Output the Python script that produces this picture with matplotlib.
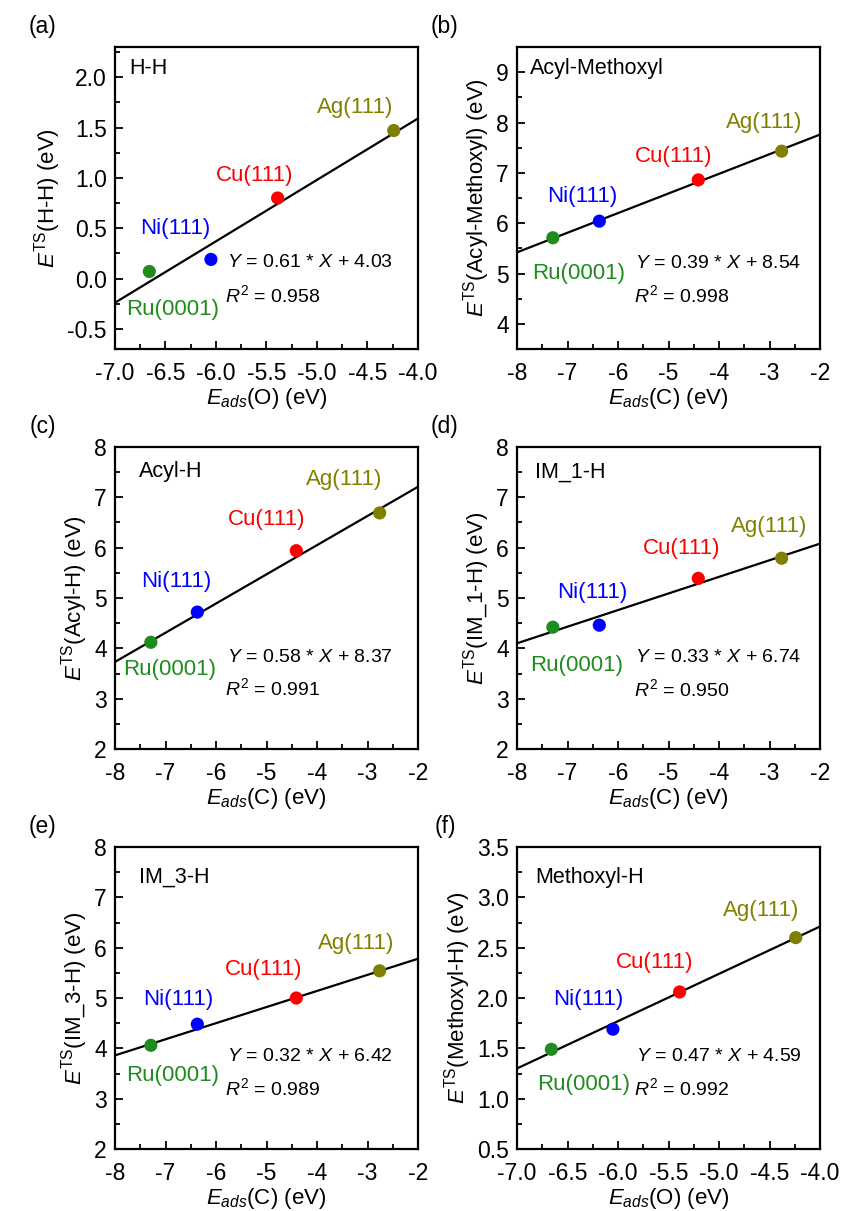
import matplotlib
matplotlib.use('Agg')
import matplotlib.pyplot as plt
from matplotlib.ticker import MultipleLocator, FormatStrFormatter
import numpy as np

plt.rcParams['font.family'] = ['Liberation Sans', 'DejaVu Sans']
plt.rcParams['mathtext.fontset'] = 'custom'
plt.rcParams['mathtext.rm'] = 'Liberation Sans'
plt.rcParams['mathtext.it'] = 'Liberation Sans:italic'
plt.rcParams['axes.unicode_minus'] = False

# 表面与颜色
surfaces = ['Ru(0001)', 'Ni(111)', 'Cu(111)', 'Ag(111)']
colors = ['#1E8C1E', '#0000FF', '#FF0000', '#808000']

# 吸附能 (eV)
e_ads_O = [-6.66, -6.05, -5.39, -4.24]
e_ads_C = [-7.29, -6.37, -4.41, -2.76]

# 各反应的过渡态能量 (eV)
ts_HH = [0.07, 0.19, 0.80, 1.47]
ts_acyl_methoxyl = [5.71, 6.04, 6.86, 7.43]
ts_acyl_H = [4.12, 4.72, 5.94, 6.69]
ts_IM1_H = [4.42, 4.46, 5.39, 5.79]
ts_IM3_H = [4.06, 4.48, 5.00, 5.54]
ts_methoxyl_H = [1.49, 1.69, 2.06, 2.60]

reactions = ['H-H', 'Acyl-Methoxyl', 'Acyl-H', 'IM_1-H', 'IM_3-H', 'Methoxyl-H']
slopes = [0.61, 0.39, 0.58, 0.33, 0.32, 0.47]
intercepts = [4.03, 8.54, 8.37, 6.74, 6.42, 4.59]
r2 = ['0.958', '0.998', '0.991', '0.950', '0.989', '0.992']

panels = [
    # (x数据, y数据, 吸附原子, xlim, ylim, x主刻度, y主刻度, 格式)
    (e_ads_O, ts_HH, 'O', (-7.0, -4.0), (-0.7, 2.3), 0.5, 0.5, '%.1f'),
    (e_ads_C, ts_acyl_methoxyl, 'C', (-8, -2), (3.5, 9.5), 1, 1, '%d'),
    (e_ads_C, ts_acyl_H, 'C', (-8, -2), (2, 8), 1, 1, '%d'),
    (e_ads_C, ts_IM1_H, 'C', (-8, -2), (2, 8), 1, 1, '%d'),
    (e_ads_C, ts_IM3_H, 'C', (-8, -2), (2, 8), 1, 1, '%d'),
    (e_ads_O, ts_methoxyl_H, 'O', (-7.0, -4.0), (0.5, 3.5), 0.5, 0.5, '%.1f'),
]

# 标签相对数据点的偏移 (像素)
label_offsets = [
    [(23, -38), (-36, 31), (-23, 23), (-39, 23)],
    [(26, -36), (-17, 25), (-25, 23), (-17, 29)],
    [(19, -27), (-21, 31), (-30, 31), (-35, 33)],
    [(24, -38), (-7, 33), (-17, 30), (-12, 32)],
    [(22, -30), (-19, 25), (-33, 28), (-23, 27)],
    [(32, -35), (-25, 30), (-25, 29), (-35, 27)],
]
# 方程、R^2、反应名 的位置 (坐标轴分数)
eq_pos = [(0.369, 0.285), (0.39, 0.284), (0.369, 0.304), (0.39, 0.303), (0.369, 0.307), (0.393, 0.307)]
r2_pos = [(0.364, 0.177), (0.385, 0.179), (0.364, 0.200), (0.385, 0.198), (0.364, 0.202), (0.385, 0.202)]
name_pos = [(0.048, 0.93), (0.044, 0.928), (0.078, 0.918), (0.06, 0.917), (0.078, 0.899), (0.06, 0.899)]
tags = ['(a)', '(b)', '(c)', '(d)', '(e)', '(f)']

W, H = 841, 1211
fig = plt.figure(figsize=(W / 100, H / 100), dpi=100)
lefts = [115, 517]
tops = [47, 447, 847]
aw, ah = 303, 302

for i, (xs, ys, atom, xlim, ylim, xmaj, ymaj, fmt) in enumerate(panels):
    col, row = i % 2, i // 2
    l, t = lefts[col], tops[row]
    ax = fig.add_axes([l / W, 1 - (t + ah) / H, aw / W, ah / H])

    xl = np.array(xlim, dtype=float)
    ax.plot(xl, slopes[i] * xl + intercepts[i], color='black', lw=1.6, zorder=2)
    ax.scatter(xs, ys, c=colors, s=90, zorder=3, edgecolors='none')

    for j, name in enumerate(surfaces):
        ax.annotate(name, (xs[j], ys[j]), xytext=label_offsets[i][j],
                    textcoords='offset pixels', ha='center', va='center',
                    color=colors[j], fontsize=16)

    ax.text(*eq_pos[i], f'$Y$ = {slopes[i]:.2f} * $X$ + {intercepts[i]:.2f}',
            transform=ax.transAxes, ha='left', va='center', fontsize=14)
    ax.text(*r2_pos[i], f'$R^2$ = {r2[i]}', transform=ax.transAxes,
            ha='left', va='center', fontsize=14)
    ax.text(*name_pos[i], reactions[i], transform=ax.transAxes,
            ha='left', va='center', fontsize=15.5)

    ax.set_xlim(*xlim)
    ax.set_ylim(*ylim)
    ax.xaxis.set_major_locator(MultipleLocator(xmaj))
    ax.xaxis.set_minor_locator(MultipleLocator(xmaj / 2))
    ax.yaxis.set_major_locator(MultipleLocator(ymaj))
    ax.yaxis.set_minor_locator(MultipleLocator(ymaj / 2))
    ax.xaxis.set_major_formatter(FormatStrFormatter(fmt))
    ax.yaxis.set_major_formatter(FormatStrFormatter(fmt))
    ax.tick_params(which='both', direction='in', top=False, right=False,
                   labelsize=16.5, width=1.3)
    ax.tick_params(which='major', length=6)
    ax.tick_params(which='minor', length=3.5)
    ax.tick_params(axis='x', which='major', pad=9)
    ax.tick_params(axis='y', which='major', pad=6)
    for sp in ax.spines.values():
        sp.set_linewidth(1.6)

    ax.set_xlabel(f'$E_{{ads}}$({atom}) (eV)', fontsize=16, labelpad=1)
    ax.set_ylabel(r'$E^{\mathrm{TS}}$(' + reactions[i] + ') (eV)', fontsize=16, labelpad=3)

    fig.text((l - 72) / W, 1 - (t - 21) / H, tags[i], ha='center', va='center', fontsize=16.5)

fig.savefig('out.png', dpi=100)
